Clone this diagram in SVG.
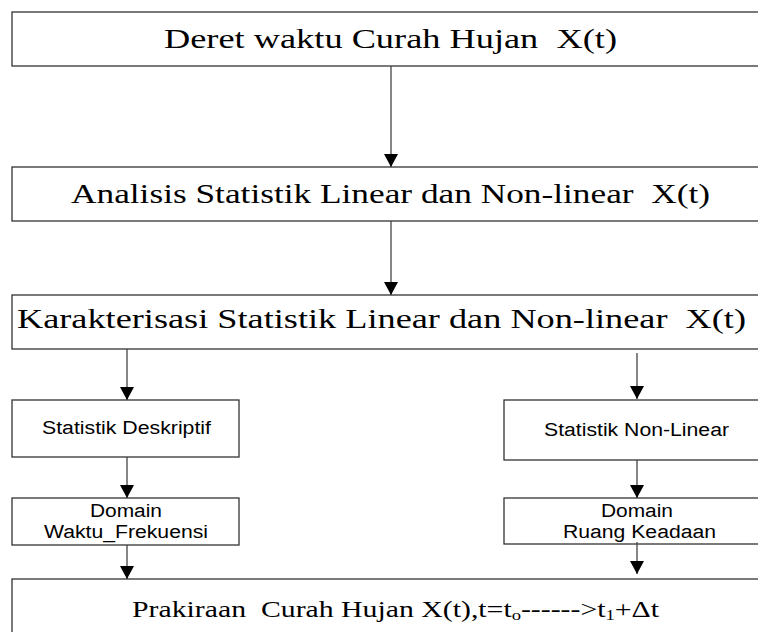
<svg xmlns="http://www.w3.org/2000/svg" width="758" height="632" viewBox="0 0 758 632">
<style>
.box{fill:#fff;stroke:#333;stroke-width:1.3}
.ser{font-family:"Liberation Serif","Times New Roman",serif;font-size:27px;fill:#000;white-space:pre}
.tms{font-family:"Liberation Serif","Times New Roman",serif;font-size:24px;fill:#000;white-space:pre}
.sans{font-family:"Liberation Sans",Arial,sans-serif;font-size:18px;fill:#000}
.con{stroke:#444;stroke-width:1.3;fill:none;marker-end:url(#ah)}
</style>
<defs>
<marker id="ah" markerUnits="userSpaceOnUse" markerWidth="14" markerHeight="13" refX="7" refY="13" orient="0" viewBox="0 0 14 13" overflow="visible">
<path d="M0,0 L14,0 L7,13 Z" fill="#000"/>
</marker>
</defs>
<rect width="758" height="632" fill="#fff"/>
<g id="n1"><rect class="box" x="12" y="12" width="760" height="54"/><text class="ser" x="164" y="48" textLength="453" lengthAdjust="spacingAndGlyphs" xml:space="preserve">Deret waktu Curah Hujan  X(t)</text></g>
<g id="n2"><rect class="box" x="12" y="167" width="760" height="54"/><text class="ser" x="71" y="203" textLength="639" lengthAdjust="spacingAndGlyphs" xml:space="preserve">Analisis Statistik Linear dan Non-linear  X(t)</text></g>
<g id="n3"><rect class="box" x="12" y="295" width="760" height="54"/><text class="ser" x="17" y="328" textLength="729" lengthAdjust="spacingAndGlyphs" xml:space="preserve">Karakterisasi Statistik Linear dan Non-linear  X(t)</text></g>
<g id="n4"><rect class="box" x="12" y="400" width="227" height="57"/><text class="sans" x="42" y="434" textLength="169" lengthAdjust="spacingAndGlyphs">Statistik Deskriptif</text></g>
<g id="n5"><rect class="box" x="504" y="400" width="268" height="60"/><text class="sans" x="544" y="436" textLength="185" lengthAdjust="spacingAndGlyphs">Statistik Non-Linear</text></g>
<g id="n6"><rect class="box" x="12" y="498" width="227" height="47"/><text class="sans" x="90" y="517" textLength="72" lengthAdjust="spacingAndGlyphs">Domain</text><text class="sans" x="44" y="538" textLength="164" lengthAdjust="spacingAndGlyphs">Waktu_Frekuensi</text></g>
<g id="n7"><rect class="box" x="504" y="498" width="268" height="46"/><text class="sans" x="601" y="517" textLength="72" lengthAdjust="spacingAndGlyphs">Domain</text><text class="sans" x="563" y="538" textLength="153" lengthAdjust="spacingAndGlyphs">Ruang Keadaan</text></g>
<g id="n8"><rect class="box" x="12" y="579" width="760" height="70"/><text class="tms" x="132" y="617" textLength="527" lengthAdjust="spacingAndGlyphs" xml:space="preserve">Prakiraan  Curah Hujan X(t),t=t<tspan font-size="15" dy="3">o</tspan><tspan dy="-3">------&gt;t</tspan><tspan font-size="15" dy="3">1</tspan><tspan dy="-3">+Δt</tspan></text></g>
<g id="connectors">
<line class="con" x1="391" y1="66" x2="391" y2="167"/>
<line class="con" x1="391" y1="221" x2="391" y2="295"/>
<line class="con" x1="127" y1="349" x2="127" y2="400"/>
<line class="con" x1="637" y1="353" x2="637" y2="399"/>
<line class="con" x1="127" y1="457" x2="127" y2="498"/>
<line class="con" x1="637" y1="460" x2="637" y2="498"/>
<line class="con" x1="127" y1="545" x2="127" y2="579"/>
<line class="con" x1="637" y1="542" x2="637" y2="574"/>
</g>
</svg>
